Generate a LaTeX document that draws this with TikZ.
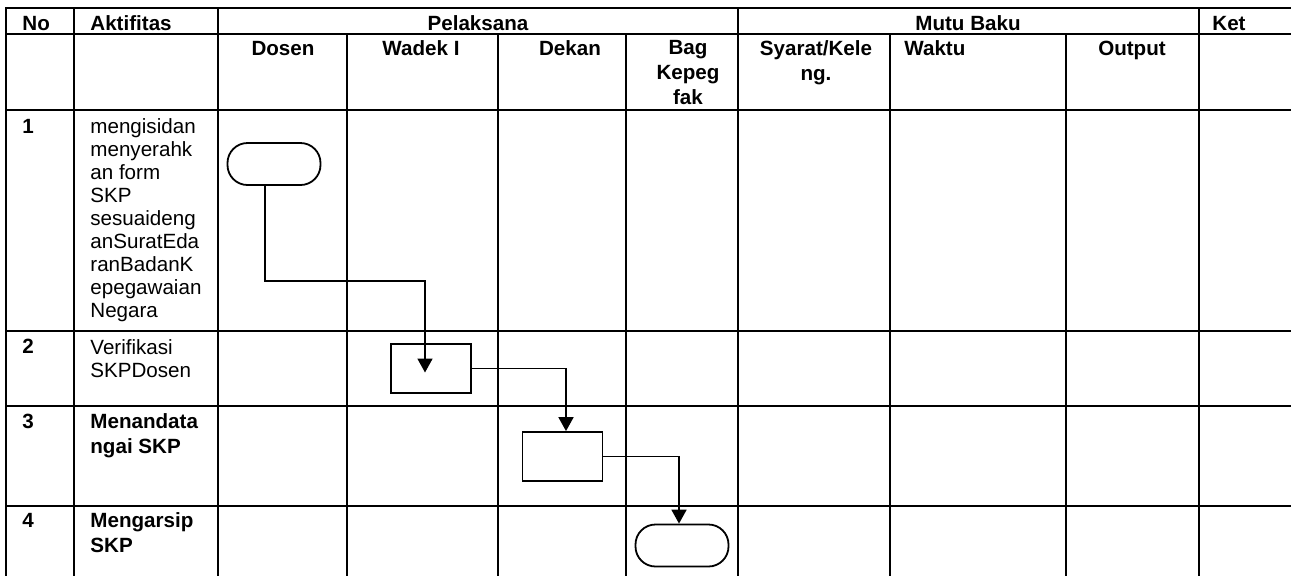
\documentclass[tikz,border=0pt]{standalone}
\usepackage{fontspec}
\setmainfont{Liberation Sans}
\usetikzlibrary{arrows.meta}
\tikzset{
  tableline/.style={line width=1.2pt,line cap=rect},
  cell/.style={inner sep=0pt,font=\fontsize{10.3}{11.5}\selectfont,align=left},
  headcell/.style={inner sep=0pt,font=\fontsize{10.3}{12.5}\selectfont\bfseries,align=left},
  procbox/.style={draw,line width=0.9pt,minimum width=40pt,minimum height=24.5pt,inner sep=0pt},
  termbox/.style={draw,line width=0.9pt,rounded corners=10pt,minimum width=46.5pt,minimum height=21pt,inner sep=0pt},
  flow/.style={->,line width=0.9pt}
}

\begin{document}
\begin{tikzpicture}[x=0.5pt,y=-0.5pt,>={Triangle[length=7pt,width=7.5pt]}]
\useasboundingbox (0,0) rectangle (1291,575);
\draw[tableline] (6,8) -- (1291,8);
\draw[tableline] (6,34) -- (1291,34);
\draw[tableline] (6,110) -- (1291,110);
\draw[tableline] (6,331) -- (1291,331);
\draw[tableline] (6,406) -- (1291,406);
\draw[tableline] (6,506) -- (1291,506);
\draw[tableline] (6,8) -- (6,575);
\draw[tableline] (74,8) -- (74,575);
\draw[tableline] (218,8) -- (218,575);
\draw[tableline] (738,8) -- (738,575);
\draw[tableline] (1199,8) -- (1199,575);
\draw[tableline] (347,34) -- (347,575);
\draw[tableline] (498,34) -- (498,575);
\draw[tableline] (626,34) -- (626,575);
\draw[tableline] (890,34) -- (890,575);
\draw[tableline] (1066,34) -- (1066,575);
\node[headcell,anchor=base west] (hNo) at (22,30) {No};
\node[headcell,anchor=base west] (hAktifitas) at (90,30) {Aktifitas};
\node[headcell,anchor=base] (hPelaksana) at (478,30) {Pelaksana};
\node[headcell,anchor=base] (hMutu) at (968,30) {Mutu Baku};
\node[headcell,anchor=base west] (hKet) at (1212,30) {Ket};
\node[headcell,anchor=base] (hDosen) at (283,55) {Dosen};
\node[headcell,anchor=base] (hWadek) at (421,55) {Wadek I};
\node[headcell,anchor=base] (hDekan) at (570,55) {Dekan};
\node[headcell,anchor=base,align=center] (hBag) at (688,104) {Bag\\Kepeg\\fak};
\node[headcell,anchor=base,align=center] (hSyarat) at (816,80) {Syarat/Kele\\ng.};
\node[headcell,anchor=base west] (hWaktu) at (904,55) {Waktu};
\node[headcell,anchor=base] (hOutput) at (1132,55) {Output};
\node[headcell,anchor=base west] (no1) at (22,133) {1};
\node[cell,anchor=base west] (akt1) at (90,317) {mengisidan\\menyerahk\\an form\\SKP\\sesuaideng\\anSuratEda\\ranBadanK\\epegawaian\\Negara};
\node[headcell,anchor=base west] (no2) at (22,353) {2};
\node[cell,anchor=base west] (akt2) at (90,377) {Verifikasi\\SKPDosen};
\node[headcell,anchor=base west] (no3) at (22,428) {3};
\node[headcell,anchor=base west] (akt3) at (90,453) {Menandata\\ngai SKP};
\node[headcell,anchor=base west] (no4) at (22,527) {4};
\node[headcell,anchor=base west] (akt4) at (90,552) {Mengarsip\\SKP};
\node[termbox] (mulai) at (274,164) {};
\node[procbox] (verifikasi) at (431,368.5) {};
\node[procbox] (tandatangan) at (562.5,456.5) {};
\node[termbox] (arsip) at (682,545.5) {};
\coordinate (belok) at (425,281);
\draw[flow] ([xshift=-4.5pt]mulai.south) |- (belok) -- ([xshift=-3pt,yshift=-2pt]verifikasi.center);
\draw[flow] (verifikasi.east) -| ([xshift=1.75pt]tandatangan.north);
\draw[flow] (tandatangan.east) -| ([xshift=-1.5pt]arsip.north);
\end{tikzpicture}
\end{document}
